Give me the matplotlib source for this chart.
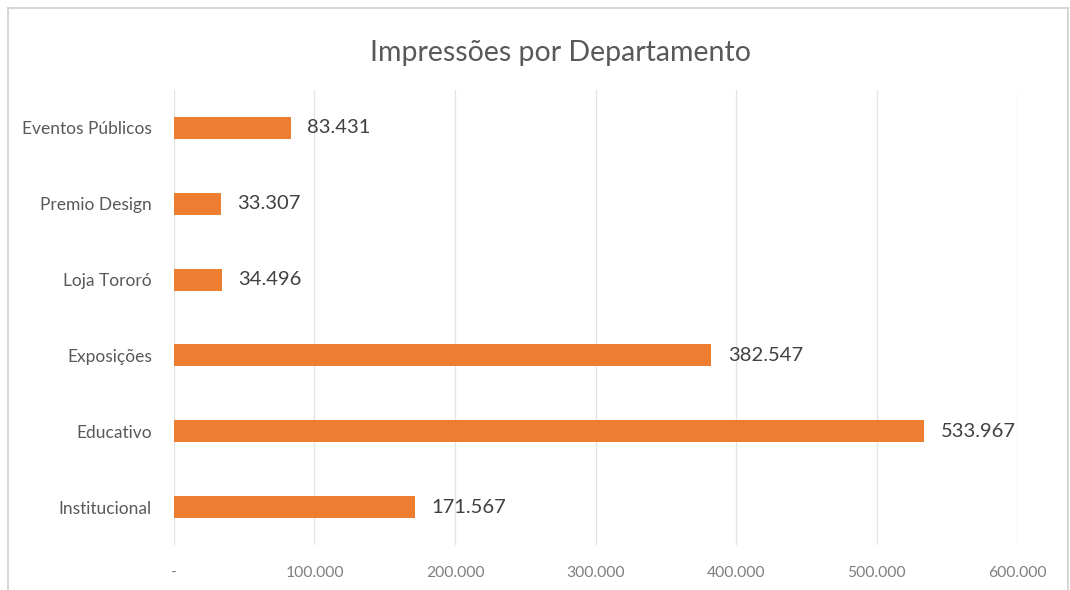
import matplotlib
matplotlib.use("Agg")
import matplotlib.pyplot as plt
from matplotlib.lines import Line2D
from matplotlib.ticker import FuncFormatter

plt.rcParams["font.family"] = ["Lato", "DejaVu Sans"]

# dados (de baixo para cima)
departamentos = ["Institucional", "Educativo", "Exposições",
                 "Loja Tororó", "Premio Design", "Eventos Públicos"]
impressoes = [171567, 533967, 382547, 34496, 33307, 83431]
x_ticks = [0, 100000, 200000, 300000, 400000, 500000, 600000]

BAR_COLOR = "#ED7D31"


def fmt_pt(v):
    # separador de milhar no padrão brasileiro
    return f"{int(v):,}".replace(",", ".")


def tick_fmt(v, pos):
    return "-" if v == 0 else fmt_pt(v)


fig = plt.figure(figsize=(10.7, 5.9), dpi=100)
ax = fig.add_axes([0.1626, 0.0763, 0.7879, 0.7712])

y = range(len(departamentos))
ax.barh(y, impressoes, height=0.29, color=BAR_COLOR, zorder=3)

for yi, v in zip(y, impressoes):
    ax.text(v + 11500, yi, fmt_pt(v), va="center", ha="left",
            fontsize=14.5, color="#404040")

ax.set_yticks(list(y))
ax.set_yticklabels(departamentos, fontsize=12.5, color="#595959")
ax.set_ylim(-0.5, len(departamentos) - 0.5)

ax.set_xlim(0, 600000)
ax.set_xticks(x_ticks)
ax.xaxis.set_major_formatter(FuncFormatter(tick_fmt))
ax.tick_params(axis="x", labelsize=11.3, labelcolor="#7f7f7f", length=0, pad=15)
ax.tick_params(axis="y", length=0, pad=16)
ax.grid(axis="x", color="#e3e3e3", linewidth=0.9, zorder=0)

for s in ax.spines.values():
    s.set_visible(False)

fig.text(0.524, 0.91, "Impressões por Departamento", ha="center", va="center",
         fontsize=20.5, color="#595959")

# moldura do gráfico
for xs, ys in [([0.0075, 0.0075], [0.0, 0.986]),
               ([0.0075, 0.998], [0.986, 0.986]),
               ([0.998, 0.998], [0.0, 0.986])]:
    fig.add_artist(Line2D(xs, ys, transform=fig.transFigure,
                          color="#d0d0d0", linewidth=1.2))

fig.savefig("out.png", dpi=100)
plt.close(fig)
